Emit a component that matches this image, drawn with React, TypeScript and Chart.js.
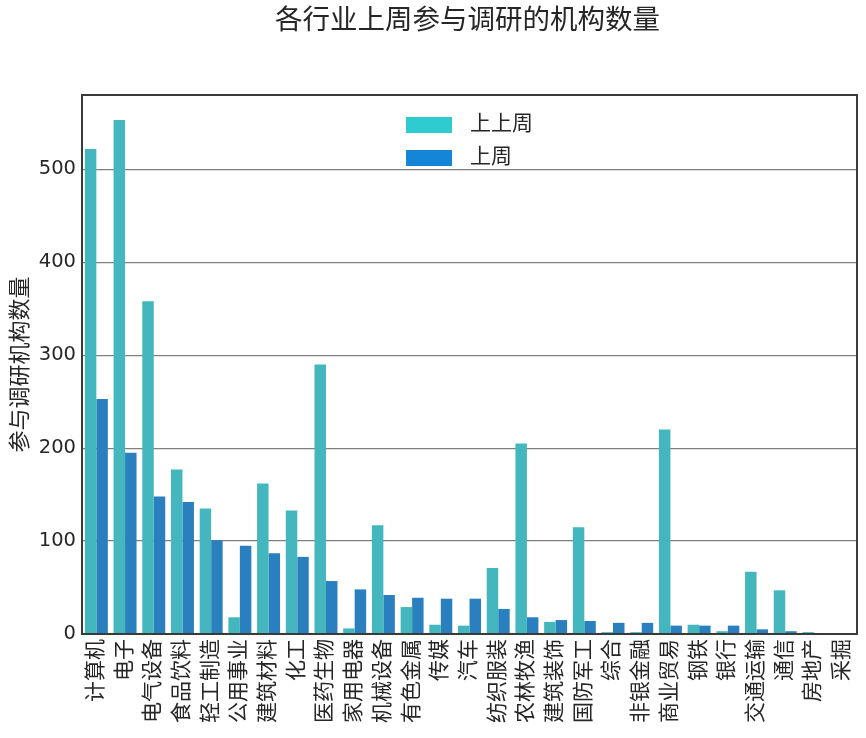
import React, { useEffect, useRef } from "react";
import { Chart, registerables } from "chart.js";

Chart.register(...registerables);

const categories = [
  "计算机", "电子", "电气设备", "食品饮料", "轻工制造", "公用事业", "建筑材料", "化工", "医药生物",
  "家用电器", "机械设备", "有色金属", "传媒", "汽车", "纺织服装", "农林牧渔", "建筑装饰", "国防军工",
  "综合", "非银金融", "商业贸易", "钢铁", "银行", "交通运输", "通信", "房地产", "采掘",
];
const prevWeek = [522, 553, 358, 177, 135, 18, 162, 133, 290, 6, 117, 29, 10, 9, 71, 205, 13, 115, 2, 2, 220, 10, 3, 67, 47, 2, 0];
const lastWeek = [253, 195, 148, 142, 101, 95, 87, 83, 57, 48, 42, 39, 38, 38, 27, 18, 15, 14, 12, 12, 9, 9, 9, 5, 3, 1, 0];
const seriesNames = ["上上周", "上周"];
const yTicks = [0, 100, 200, 300, 400, 500];

const CJK = "'DejaVu Sans', 'Noto Sans CJK SC', sans-serif";
const TEXT = "#262626";

const decorPlugin = {
  id: "decor",
  afterDatasetsDraw(chart: any) {
    const { ctx, chartArea } = chart;
    ctx.save();
    ctx.strokeStyle = "#3a3a3a";
    ctx.lineWidth = 2;
    ctx.strokeRect(chartArea.left, chartArea.top, chartArea.right - chartArea.left, chartArea.bottom - chartArea.top);
    ctx.restore();
  },
  afterDraw(chart: any) {
    const { ctx, chartArea } = chart;
    ctx.save();
    // title
    ctx.fillStyle = TEXT;
    ctx.font = `27.5px ${CJK}`;
    ctx.textAlign = "center";
    ctx.textBaseline = "middle";
    ctx.fillText("各行业上周参与调研的机构数量", (chartArea.left + chartArea.right) / 2 - 2, 22);
    // legend
    ctx.font = `21px ${CJK}`;
    const ds = chart.data.datasets;
    const boxW = 46, boxH = 16, gap = 18, rowH = 33;
    let maxW = 0;
    ds.forEach((d: any) => { maxW = Math.max(maxW, ctx.measureText(d.label).width); });
    const total = boxW + gap + maxW;
    const x0 = (chartArea.left + chartArea.right) / 2 - total / 2;
    ds.forEach((d: any, i: number) => {
      const cy = chartArea.top + 30 + i * rowH;
      ctx.fillStyle = d.legendColor;
      ctx.fillRect(x0, cy - boxH / 2, boxW, boxH);
      ctx.fillStyle = TEXT;
      ctx.textAlign = "left";
      ctx.textBaseline = "middle";
      ctx.fillText(d.label, x0 + boxW + gap, cy);
    });
    ctx.restore();
  },
};

export default function App() {
  const ref = useRef<HTMLCanvasElement>(null);
  useEffect(() => {
    document.body.style.margin = "0";
    const chart = new Chart(ref.current!, {
      type: "bar",
      data: {
        labels: categories,
        datasets: [
          { label: seriesNames[0], data: prevWeek, backgroundColor: "#43b7bd", legendColor: "#2ecbd0" } as any,
          { label: seriesNames[1], data: lastWeek, backgroundColor: "#2a80be", legendColor: "#1485d7" } as any,
        ],
      },
      options: {
        responsive: false,
        animation: false,
        devicePixelRatio: 1,
        layout: { padding: { top: 95, right: 9, left: 0, bottom: 0 } },
        datasets: { bar: { categoryPercentage: 0.8, barPercentage: 1.0, borderWidth: 0 } },
        plugins: { legend: { display: false }, title: { display: false }, tooltip: { enabled: false } },
        scales: {
          x: {
            grid: { display: false, drawTicks: false },
            border: { display: false },
            ticks: {
              autoSkip: false,
              maxRotation: 90,
              minRotation: 90,
              padding: 5,
              color: TEXT,
              font: { family: CJK, size: 21 },
            },
            afterFit(scale: any) {
              scale.height = 104;
              scale.paddingLeft = 0;
              scale.paddingRight = 0;
            },
          },
          y: {
            min: 0,
            max: 580,
            grid: { color: "#808080", lineWidth: 1.2, drawTicks: false },
            border: { display: false },
            ticks: {
              stepSize: 100,
              padding: 6,
              color: TEXT,
              font: { family: "'DejaVu Sans', sans-serif", size: 19.5 },
            },
            afterBuildTicks(scale: any) {
              scale.ticks = yTicks.map((v) => ({ value: v }));
            },
            title: {
              display: true,
              text: "参与调研机构数量",
              color: TEXT,
              font: { family: CJK, size: 22 },
              padding: { top: 8, bottom: 0 },
            },
            afterFit(scale: any) {
              scale.width = 82;
              scale.paddingTop = 0;
              scale.paddingBottom = 0;
            },
          },
        },
      },
      plugins: [decorPlugin],
    });
    return () => chart.destroy();
  }, []);
  return <canvas ref={ref} width={866} height={738} style={{ display: "block" }} />;
}
